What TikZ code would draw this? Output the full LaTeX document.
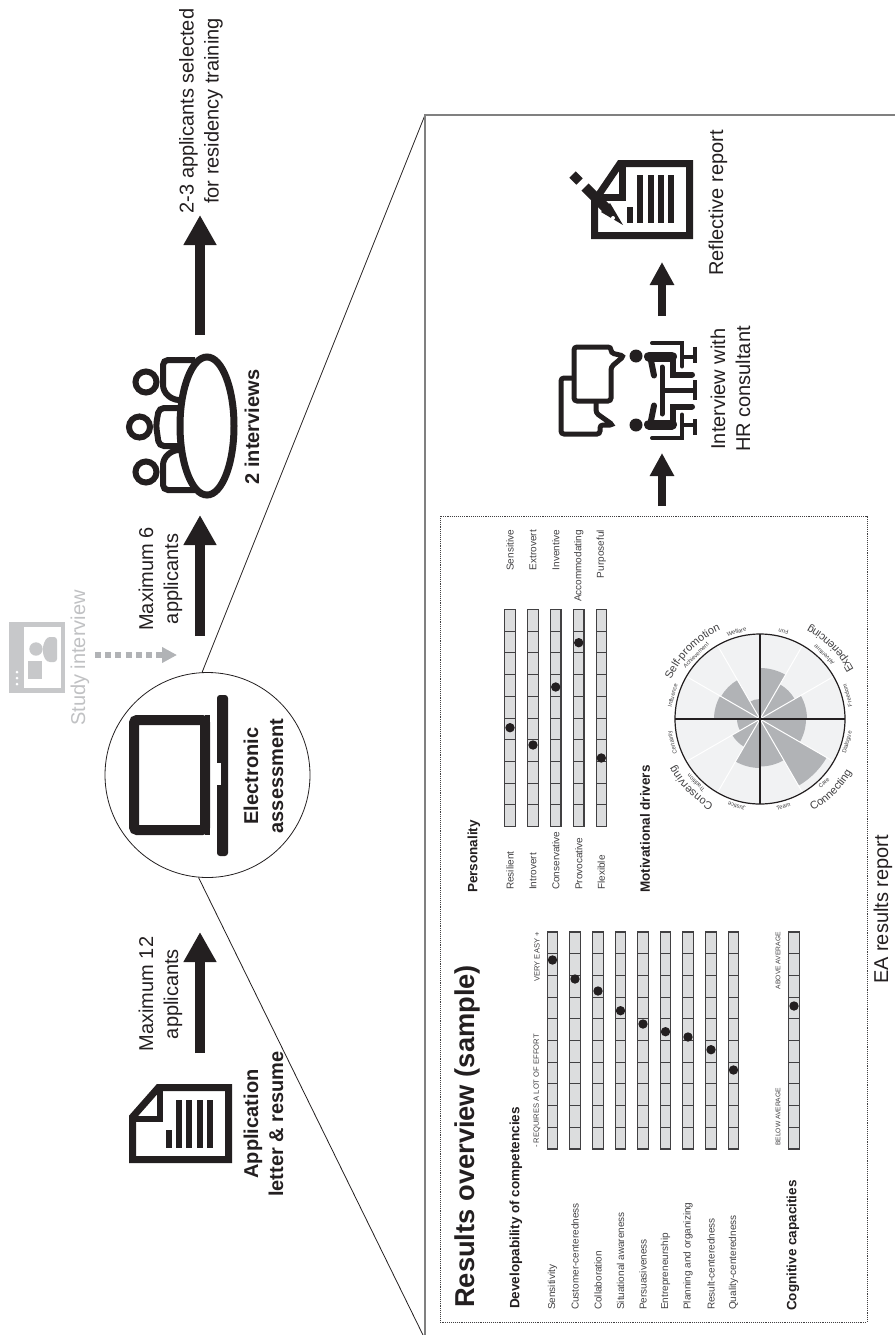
\documentclass[tikz,border=0pt]{standalone}
\usepackage{fontspec}
\setmainfont{Liberation Sans}
\usetikzlibrary{arrows.meta}
\usetikzlibrary{decorations.text}
\definecolor{ink}{HTML}{231F20}
\definecolor{softgray}{HTML}{C7C8CA}
\definecolor{midgray}{HTML}{B1B3B6}
\definecolor{cellgray}{HTML}{DCDDDE}
\definecolor{diskgray}{HTML}{F1F2F3}
\definecolor{smalltext}{HTML}{414042}
\tikzset{
  rottext/.style={rotate=90,inner sep=0pt,align=center,text=ink},
  biglabel/.style={rottext,font=\fontsize{20}{25}\selectfont},
  boldlabel/.style={rottext,font=\fontsize{20}{25}\selectfont\bfseries},
  headlabel/.style={rottext,anchor=west,font=\fontsize{13.5}{16}\selectfont\bfseries},
  itemlabel/.style={rottext,anchor=west,font=\fontsize{10}{12}\selectfont,text=smalltext},
  itemright/.style={rottext,anchor=east,font=\fontsize{10}{12}\selectfont,text=smalltext},
  endlabel/.style={rottext,font=\fontsize{6.7}{8}\selectfont,text=smalltext},
  drvlabel/.style={inner sep=0pt,font=\fontsize{5.8}{7}\selectfont,text=smalltext},
  bigarrow/.style={line width=10pt,ink,-{Triangle[width=31pt,length=30pt]}},
  smallarrow/.style={line width=8pt,ink,-{Triangle[width=23pt,length=23pt]}},
  iconline/.style={line width=7pt,ink,line join=miter},
  thinicon/.style={line width=5pt,ink,rounded corners=3pt,fill=white},
  dotmark/.style={fill=ink},
  groupname/.style={decorate,decoration={text along path,text align=center,text={|\fontsize{11}{13}\selectfont\color{smalltext}|#1}}}
}
% one scale bar, ten cells
\newcommand{\scalebar}[2]{
  \draw[fill=cellgray,draw=smalltext,line width=1.2pt] (#1-5.2,#2) rectangle (#1+5.2,#2+217);
  \foreach \i in {1,...,9}
    \draw[smalltext,line width=1pt] (#1-5.2,#2+21.7*\i) -- (#1+5.2,#2+21.7*\i);
}
\begin{document}
\begin{tikzpicture}[x=1pt,y=-1pt]
\useasboundingbox (0,0) rectangle (895,1335);

% zoom lines
\node[circle,draw=ink,line width=0.8pt,fill=white,minimum size=205pt,inner sep=0pt] (eacircle) at (207.5,775) {};
\coordinate (zoomtop) at (425,115);
\coordinate (zoombot) at (423,1335);
\coordinate (zoomright) at (895,115);
\coordinate (zoomfoot) at (425,1335);
\draw[ink,line width=0.8pt] (eacircle.93) -- (zoomtop);
\draw[ink,line width=0.8pt] (eacircle.-95) -- (zoombot);
\draw[gray,line width=1.5pt] (zoomfoot) -- (zoomtop) -- (zoomright);

% application
\draw[iconline] (228.5,1087.5) -- (158.5,1087.5) -- (132.5,1117) -- (132.5,1159.5) -- (228.5,1159.5) -- cycle;
\draw[line width=6pt,ink] (160,1087) -- (160,1119) -- (132,1119);
\fill[ink] (166,1130) rectangle (172,1148);
\foreach \x in {176,186,197,207}
  \fill[ink] (\x,1100) rectangle (\x+6,1148);
\node[boldlabel] (applabel) at (263.5,1124) {Application\\letter \& resume};

% computer
\draw[ink,line width=10pt,rounded corners=3pt] (205,720) -- (134,720) -- (134,830) -- (205,830) -- cycle;
\fill[ink] (205,715) rectangle (210,835);
\fill[ink,rounded corners=3pt] (217,695) -- (228,695) -- (228,856) -- (217,856) -- cycle;
\fill[white] (216.5,763) rectangle (221,785);
\node[boldlabel] (ealabel) at (263.5,776) {Electronic\\assessment};

% interviews
\foreach \yc in {382,472}
  \draw[ink,line width=6pt] (146,\yc) circle[radius=10.5];
\draw[ink,line width=6pt] (139.5,427) circle[radius=10.5];
\draw[ink,line width=6pt,rounded corners=5pt] (195,360) -- (163,360) -- (163,380) .. controls (163,392) and (170,402) .. (185,400);
\draw[ink,line width=6pt,rounded corners=5pt] (195,490) -- (163,490) -- (163,470) .. controls (163,458) and (170,448) .. (185,450);
\draw[ink,line width=6pt,rounded corners=5pt] (185,408) -- (159,408) -- (156,425) -- (159,446) -- (185,446);
\draw[ink,line width=7pt,fill=white] (207,426) ellipse[x radius=27,y radius=69];
\node[boldlabel] (twolabel) at (252,427) {2 interviews};

% top row arrows
\coordinate (a12s) at (200,1053);
\coordinate (a12e) at (200,932);
\coordinate (a6s) at (200,636);
\coordinate (a6e) at (200,515);
\coordinate (a3s) at (200,335);
\coordinate (a3e) at (200,215);
\draw[bigarrow] (a12s) -- (a12e);
\draw[bigarrow] (a6s) -- (a6e);
\draw[bigarrow] (a3s) -- (a3e);
\node[biglabel] (max12) at (160.5,994) {Maximum 12\\applicants};
\node[biglabel] (max6) at (160.5,579) {Maximum 6\\applicants};
\node[biglabel] (selected) at (201,111) {2-3 applicants selected\\for residency training};

% study interview
\fill[softgray] (9,622) rectangle (65,693);
\fill[white] (24,627) rectangle (61,688);
\foreach \yc in {672,678,684}
  \fill[white] (17,\yc) circle[radius=1.5];
\fill[softgray] (36,649) circle[radius=6.7];
\fill[softgray] (28,661) rectangle (42,679);
\fill[softgray,rounded corners=3pt] (57,637) -- (47,637) -- (43,645) -- (43,655) -- (47,662) -- (57,662) -- cycle;
\node[biglabel,text=softgray!90!gray] (studylabel) at (80,658) {Study interview};
\coordinate (studys) at (95,655);
\coordinate (studye) at (177,655);
\draw[midgray,line width=6pt,dash pattern=on 6pt off 4.2pt,-{Triangle[width=15pt,length=15pt]}] (studys) -- (studye);

% results box
\coordinate (boxa) at (440,516);
\coordinate (boxb) at (867,1322);
\draw[smalltext,line width=0.9pt,densely dotted] (boxa) rectangle (boxb);
\node[rottext,anchor=west,font=\fontsize{27.3}{30}\selectfont\bfseries] (restitle) at (467,1308) {Results overview (sample)};
\node[headlabel] (devhead) at (516,1309) {Developability of competencies};
\node[headlabel] (coghead) at (793,1311) {Cognitive capacities};
\node[headlabel] (perhead) at (474,893) {Personality};
\node[headlabel] (mothead) at (645,893) {Motivational drivers};
\node[endlabel,anchor=west,font=\fontsize{7.6}{9}\selectfont] (reqlab) at (537,1148) {- REQUIRES A LOT OF EFFORT};
\node[endlabel,anchor=east,font=\fontsize{7.6}{9}\selectfont] (easylab) at (537,932) {VERY EASY +};
\node[endlabel,anchor=west] (bellab) at (778,1146) {BELOW AVERAGE};
\node[endlabel,anchor=east] (abolab) at (778,932) {ABOVE AVERAGE};

\foreach \xc/\lab/\dy in {552.5/Sensitivity/960,575/Customer-centeredness/979,598/Collaboration/991,620.5/Situational awareness/1010.7,643/Persuasiveness/1024,665.5/Entrepreneurship/1031.7,688/Planning and organizing/1037,711/Result-centeredness/1049.7,733.5/Quality-centeredness/1070,794/{}/1006} {
  \scalebar{\xc}{932}
  \fill[dotmark] (\xc,\dy) circle[radius=4.7];
  \node[itemlabel] at (\xc,1310) {\lab};
}

% personality bars
\foreach \xc/\dy/\lab/\rab in {510/727.7/Resilient/Sensitive,533/745/Introvert/Extrovert,555.7/687/Conservative/Inventive,578.7/642.7/Provocative/Accommodating,601.3/758/Flexible/Purposeful} {
  \scalebar{\xc}{609.5}
  \fill[dotmark] (\xc,\dy) circle[radius=4.7];
  \node[itemlabel] at (\xc,890) {\lab};
  \node[itemright] at (\xc,530) {\rab};
}

% motivational drivers
\begin{scope}[shift={(760,719)}]
\fill[diskgray] (0,0) circle[radius=85];
\foreach \a/\r in {-90/51,-60/40,-30/47,0/46,30/77,60/47.5,90/49,120/32,150/23,180/46,210/45,240/20}
  \fill[midgray] (0,0) -- (\a:\r) arc[start angle=\a,delta angle=30,radius=\r] -- cycle;
\foreach \a in {-60,-30,30,60,120,150,210,240}
  \draw[white,line width=1pt] (0,0) -- (\a:85);
\draw[ink,line width=1.5pt] (-85,0) -- (85,0);
\draw[ink,line width=1.5pt] (0,-85) -- (0,85);
\draw[ink,line width=1.2pt] (0,0) circle[radius=85];
\foreach \a/\lab/\rot in {-75/Fun/165,-45/Adventure/135,-15/Freedom/105,15/Dialogue/75,45/Care/45,75/Team/15,105/Justice/165,135/Tradition/135,165/Certainty/105,195/Influence/75,225/Achievement/45,255/Welfare/15}
  \node[drvlabel,rotate=\rot] at (\a:90.5) {\lab};
\path[groupname=Self-promotion] (180:97) arc[start angle=180,delta angle=90,radius=97];
\path[groupname=Conserving] (90:97) arc[start angle=90,delta angle=90,radius=97];
\path[groupname=Experiencing] (0:106) arc[start angle=0,delta angle=-90,radius=106];
\path[groupname=Connecting] (90:106) arc[start angle=90,delta angle=-90,radius=106];
\end{scope}
\node[biglabel] (ealab) at (883,909.5) {EA results report};

% bottom row arrows
\coordinate (b1s) at (662,506);
\coordinate (b1e) at (662,453);
\coordinate (b2s) at (662,316);
\coordinate (b2e) at (662,262);
\draw[smallarrow] (b1s) -- (b1e);
\draw[smallarrow] (b2s) -- (b2e);

% interview with consultant
\draw[thinicon] (574,378) -- (561,378) -- (561,434) -- (600,434) -- (600,425) -- (613,425) -- (596,413) -- (596,400);
\draw[thinicon] (574,347) -- (611,347) -- (611,353) -- (624,356) -- (611,367) -- (611,401) -- (574,401) -- cycle;
\foreach \sgn in {1,-1} {
\begin{scope}[shift={(0,390.5)},yscale=\sgn]
\fill[ink] (636,-34.5) circle[radius=6.5];
\draw[ink,line width=10pt,line cap=round] (649,-34) -- (672,-34);
\draw[ink,line width=6pt,line cap=round] (651,-30) -- (654,-15);
\draw[ink,line width=4pt,line cap=round] (652,-47.5) -- (682,-47.5) -- (682,-24);
\draw[ink,line width=4pt] (682,-34) -- (695,-34);
\draw[ink,line width=4pt] (695,-44) -- (695,-28);
\draw[ink,line width=6pt,line cap=round] (673,-34) -- (673,-16) -- (692,-16);
\end{scope}
}
\draw[ink,line width=5pt,line cap=round] (662,367) -- (662,414);
\draw[ink,line width=5pt] (662,390.5) -- (693,390.5);
\draw[ink,line width=4pt] (695,380) -- (695,400);
\node[biglabel] (hrlabel) at (730.5,389) {Interview with\\HR consultant};

% reflective report
\draw[iconline] (689.5,163.5) -- (620,163.5) -- (594.5,201) -- (594.5,235.5) -- (689.5,235.5) -- cycle;
\draw[iconline] (622,164) -- (622,197) -- (602,197);
\fill[ink] (627,207) rectangle (633,223);
\foreach \x in {637,648,658,668}
  \fill[ink] (\x,175) rectangle (\x+6,223);
\draw[ink,line width=9pt] (572.5,174.5) -- (579.5,181.5);
\draw[ink,line width=10pt] (585,187) -- (606,208);
\fill[ink] (601,212) -- (610,203) -- (623,225) -- cycle;
\fill[white] (613,218) circle[radius=2];
\node[biglabel] (reflabel) at (718,203) {Reflective report};
\end{tikzpicture}
\end{document}
